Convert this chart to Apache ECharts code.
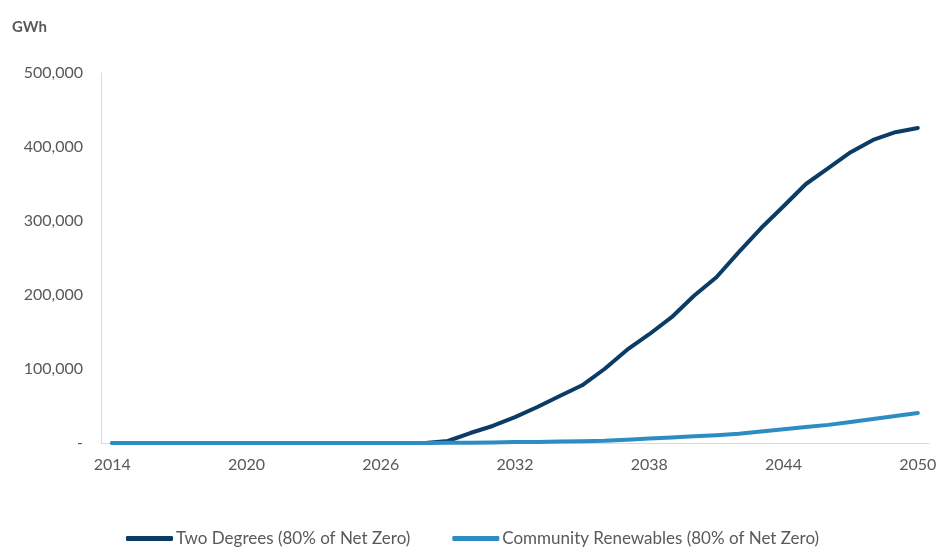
<!DOCTYPE html>
<html>
<head>
<meta charset="utf-8">
<script src="https://cdn.jsdelivr.net/npm/echarts@6/dist/echarts.min.js"></script>
<style>
  html, body { margin: 0; padding: 0; background: #fff; }
  #chart { width: 940px; height: 547px; }
</style>
</head>
<body>
<div id="chart"></div>
<script>
// Years on the category axis
const years = [];
for (let y = 2014; y <= 2050; y++) years.push(String(y));

// Annual energy, GWh
const twoDegrees = [
  0, 0, 0, 0, 0, 0, 0, 0, 0, 0, 0, 0, 0, 0, 0,
  2700, 13500, 23000, 35000, 48600, 63500, 78000, 100000, 125700, 147000,
  170000, 199000, 224000, 258000, 290500, 320000, 350000, 371600, 393000,
  409500, 420000, 425700
];
const communityRenewables = [
  0, 0, 0, 0, 0, 0, 0, 0, 0, 0, 0, 0, 0, 0, 0,
  200, 500, 800, 1200, 1500, 2000, 2500, 3000, 4500, 6000,
  7500, 9000, 10500, 12500, 15500, 18500, 21500, 24500, 28500,
  32500, 36500, 40500
];

const seriesNames = ['Two Degrees (80% of Net Zero)', 'Community Renewables (80% of Net Zero)'];
const seriesColors = ['#0B3C68', '#2C8CC4'];

const chart = echarts.init(document.getElementById('chart'));
const font = 'Lato, "Open Sans", sans-serif';

chart.setOption({
  animation: false,
  textStyle: { fontFamily: font },
  title: {
    text: 'GWh',
    left: 7,
    top: 15,
    textStyle: { fontFamily: font, fontSize: 15, fontWeight: 'bold', color: '#595959' }
  },
  grid: { left: 101, right: 11, top: 73, bottom: 104 },
  legend: {
    top: 525,
    left: 121,
    itemWidth: 47,
    itemHeight: 5,
    itemGap: 42,
    icon: 'roundRect',
    textStyle: { fontFamily: font, fontSize: 17, color: '#595959', padding: [0, 0, 0, -2] },
    data: seriesNames
  },
  xAxis: {
    type: 'category',
    data: years,
    boundaryGap: true,
    axisLine: { show: true, lineStyle: { color: '#D9D9D9', width: 1 } },
    axisTick: { show: false },
    axisLabel: {
      interval: 5,
      margin: 14,
      color: '#595959',
      fontSize: 16,
      fontFamily: font
    }
  },
  yAxis: {
    type: 'value',
    min: 0,
    max: 500000,
    interval: 100000,
    splitLine: { show: false },
    axisLine: { show: true, lineStyle: { color: '#D9D9D9', width: 1 } },
    axisTick: { show: false },
    axisLabel: {
      margin: 18,
      color: '#595959',
      fontSize: 16,
      fontFamily: font,
      formatter: v => v === 0 ? '-' : v.toLocaleString('en-US')
    }
  },
  series: [
    {
      name: seriesNames[0],
      type: 'line',
      data: twoDegrees,
      symbol: 'none',
      color: seriesColors[0],
      lineStyle: { width: 4, color: seriesColors[0], cap: 'round', join: 'round' }
    },
    {
      name: seriesNames[1],
      type: 'line',
      data: communityRenewables,
      symbol: 'none',
      color: seriesColors[1],
      lineStyle: { width: 4, color: seriesColors[1], cap: 'round', join: 'round' }
    }
  ]
});
</script>
</body>
</html>
